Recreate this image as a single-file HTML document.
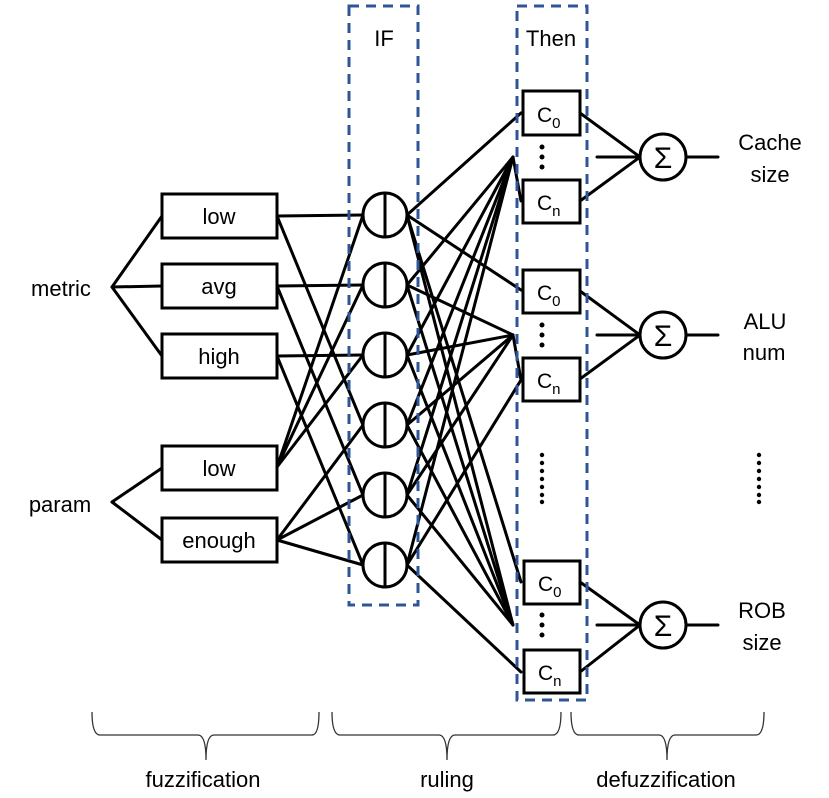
<!DOCTYPE html>
<html><head><meta charset="utf-8"><style>
html,body{margin:0;padding:0;background:#fff;}
svg{display:block;}
text{font-family:"Liberation Sans",sans-serif;fill:#000;}
</style></head><body>
<svg width="829" height="798" viewBox="0 0 829 798" xmlns="http://www.w3.org/2000/svg">
<g stroke="#000" stroke-width="3" fill="none" stroke-linecap="round">
<line x1="112" y1="287" x2="162" y2="216"/>
<line x1="112" y1="287" x2="162" y2="286"/>
<line x1="112" y1="287" x2="162" y2="356"/>
<line x1="112" y1="502" x2="162" y2="468"/>
<line x1="112" y1="502" x2="162" y2="540"/>
<line x1="277" y1="216" x2="363" y2="215"/>
<line x1="277" y1="216" x2="363" y2="425"/>
<line x1="277" y1="286" x2="363" y2="285"/>
<line x1="277" y1="286" x2="363" y2="495"/>
<line x1="277" y1="356" x2="363" y2="355"/>
<line x1="277" y1="356" x2="363" y2="565"/>
<line x1="277" y1="467" x2="363" y2="215"/>
<line x1="277" y1="467" x2="363" y2="285"/>
<line x1="277" y1="467" x2="363" y2="355"/>
<line x1="277" y1="540" x2="363" y2="425"/>
<line x1="277" y1="540" x2="363" y2="495"/>
<line x1="277" y1="540" x2="363" y2="565"/>
<line x1="407" y1="215" x2="521" y2="113"/>
<line x1="407" y1="215" x2="521" y2="290"/>
<line x1="407" y1="215" x2="513" y2="625"/>
<line x1="407" y1="215" x2="521" y2="582"/>
<line x1="407" y1="285" x2="513" y2="157"/>
<line x1="407" y1="285" x2="513" y2="335"/>
<line x1="407" y1="285" x2="513" y2="625"/>
<line x1="407" y1="355" x2="513" y2="157"/>
<line x1="407" y1="355" x2="513" y2="335"/>
<line x1="407" y1="355" x2="513" y2="625"/>
<line x1="407" y1="425" x2="513" y2="157"/>
<line x1="407" y1="425" x2="513" y2="335"/>
<line x1="407" y1="425" x2="513" y2="625"/>
<line x1="407" y1="495" x2="513" y2="157"/>
<line x1="407" y1="495" x2="513" y2="335"/>
<line x1="407" y1="495" x2="513" y2="625"/>
<line x1="407" y1="565" x2="513" y2="157"/>
<line x1="407" y1="565" x2="521" y2="380"/>
<line x1="407" y1="565" x2="521" y2="672"/>
<line x1="513" y1="157" x2="521" y2="201"/>
<line x1="513" y1="335" x2="521" y2="380"/>
<line x1="580" y1="113" x2="640" y2="157"/>
<line x1="580" y1="201" x2="640" y2="157"/>
<line x1="597" y1="157" x2="640" y2="157"/>
<line x1="686" y1="157" x2="718" y2="157"/>
<line x1="580" y1="291" x2="640" y2="335"/>
<line x1="580" y1="379" x2="640" y2="335"/>
<line x1="597" y1="335" x2="640" y2="335"/>
<line x1="686" y1="335" x2="718" y2="335"/>
<line x1="580" y1="582" x2="640" y2="625"/>
<line x1="580" y1="672" x2="640" y2="625"/>
<line x1="597" y1="625" x2="640" y2="625"/>
<line x1="686" y1="625" x2="718" y2="625"/>
</g>
<g stroke="#000" stroke-width="3" fill="#fff">
<rect x="162" y="194" width="115" height="44"/>
<rect x="162" y="264" width="115" height="44"/>
<rect x="162" y="334" width="115" height="44"/>
<rect x="162" y="446" width="115" height="44"/>
<rect x="162" y="518" width="115" height="44"/>
<circle cx="385" cy="215" r="22"/><circle cx="385" cy="285" r="22"/><circle cx="385" cy="355" r="22"/>
<circle cx="385" cy="425" r="22"/><circle cx="385" cy="495" r="22"/><circle cx="385" cy="565" r="22"/>
<rect x="523" y="91" width="57" height="44"/><rect x="523" y="180" width="57" height="43"/>
<rect x="523" y="270" width="57" height="43"/><rect x="523" y="358" width="57" height="43"/>
<rect x="524" y="561" width="56" height="43"/><rect x="524" y="650" width="56" height="43"/>
<circle cx="663" cy="157" r="23"/><circle cx="663" cy="335" r="23"/><circle cx="663" cy="625" r="23"/>
</g>
<g stroke="#000" stroke-width="3">
<line x1="385" y1="193" x2="385" y2="237"/><line x1="385" y1="263" x2="385" y2="307"/><line x1="385" y1="333" x2="385" y2="377"/>
<line x1="385" y1="403" x2="385" y2="447"/><line x1="385" y1="473" x2="385" y2="517"/><line x1="385" y1="543" x2="385" y2="587"/>
</g>
<g fill="none" stroke="#2f5597" stroke-width="3" stroke-dasharray="10,7">
<rect x="349" y="6" width="69" height="599"/>
<rect x="517" y="6" width="70" height="694"/>
</g>
<g fill="#000">
<circle cx="542" cy="147" r="2.5"/><circle cx="542" cy="157" r="2.5"/><circle cx="542" cy="167" r="2.5"/>
<circle cx="542" cy="325" r="2.5"/><circle cx="542" cy="335" r="2.5"/><circle cx="542" cy="345" r="2.5"/>
<circle cx="542" cy="615" r="2.5"/><circle cx="542" cy="625" r="2.5"/><circle cx="542" cy="635" r="2.5"/>
<circle cx="542" cy="455" r="2.2"/><circle cx="542" cy="463" r="2.2"/><circle cx="542" cy="471" r="2.2"/><circle cx="542" cy="479" r="2.2"/><circle cx="542" cy="487" r="2.2"/><circle cx="542" cy="495" r="2.2"/><circle cx="542" cy="502" r="2.2"/>
<circle cx="759" cy="455" r="2.2"/><circle cx="759" cy="463" r="2.2"/><circle cx="759" cy="471" r="2.2"/><circle cx="759" cy="479" r="2.2"/><circle cx="759" cy="487" r="2.2"/><circle cx="759" cy="495" r="2.2"/><circle cx="759" cy="502" r="2.2"/>
</g>
<g font-size="22" text-anchor="middle">
<text x="219" y="224">low</text><text x="219" y="294">avg</text><text x="219" y="364">high</text>
<text x="219" y="476">low</text><text x="219" y="548">enough</text>
<text x="61" y="296">metric</text><text x="60" y="512">param</text>
<text x="384" y="46">IF</text><text x="551" y="46">Then</text>
<text x="770" y="150">Cache</text><text x="770" y="182">size</text>
<text x="765" y="329">ALU</text><text x="764" y="360">num</text>
<text x="762" y="618">ROB</text><text x="762" y="650">size</text>
<text x="203" y="787">fuzzification</text><text x="447" y="787">ruling</text><text x="666" y="787">defuzzification</text>
</g>
<g font-size="21">
<text x="537" y="122">C<tspan font-size="15" dy="6">0</tspan></text>
<text x="537" y="210">C<tspan font-size="15" dy="6">n</tspan></text>
<text x="537" y="300">C<tspan font-size="15" dy="6">0</tspan></text>
<text x="537" y="388">C<tspan font-size="15" dy="6">n</tspan></text>
<text x="538" y="591">C<tspan font-size="15" dy="6">0</tspan></text>
<text x="538" y="680">C<tspan font-size="15" dy="6">n</tspan></text>
</g>
<g font-size="30" text-anchor="middle">
<text x="663" y="168">Σ</text><text x="663" y="346">Σ</text><text x="663" y="636">Σ</text>
</g>
<g fill="none" stroke="#333" stroke-width="1.3">
<path d="M92 712 Q92 735 100 735 L198 735 Q206 735 206 760 Q206 735 214 735 L312 735 Q319 735 319 712"/>
<path d="M332 712 Q332 735 340 735 L439 735 Q447 735 447 760 Q447 735 455 735 L553 735 Q561 735 561 712"/>
<path d="M571 712 Q571 735 579 735 L659 735 Q667 735 667 760 Q667 735 675 735 L756 735 Q764 735 764 712"/>
</g>
</svg>
</body></html>
